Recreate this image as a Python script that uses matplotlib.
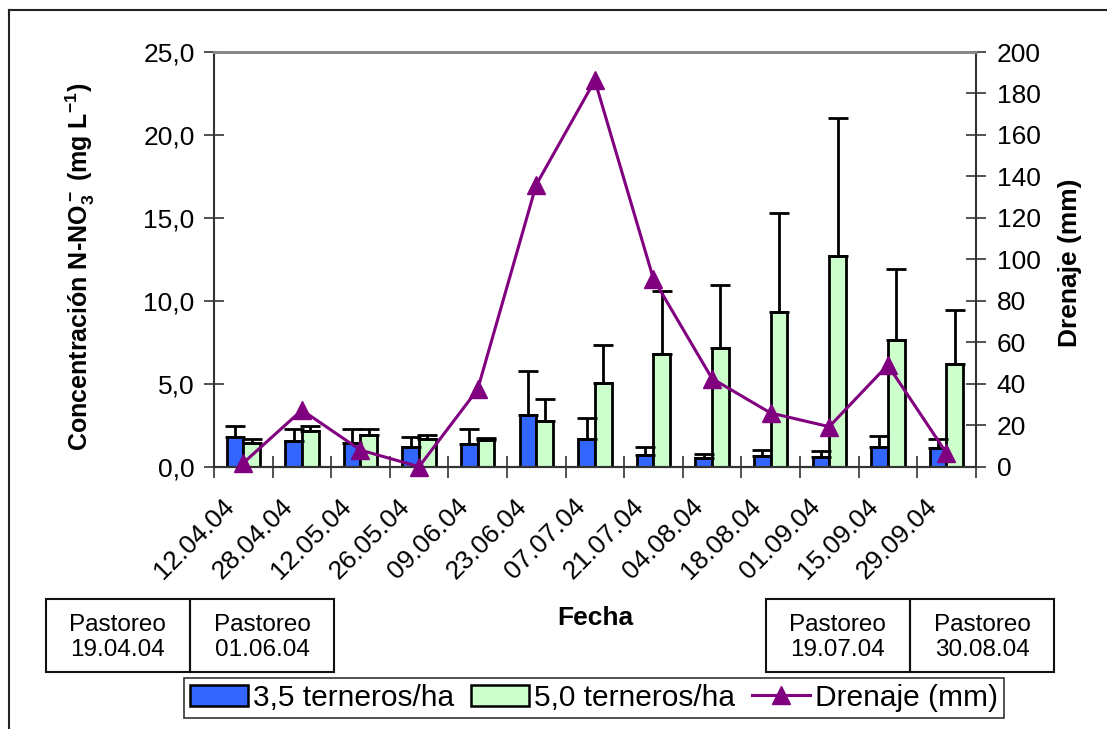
import matplotlib
matplotlib.use("Agg")
import matplotlib.pyplot as plt
import numpy as np
from matplotlib.patches import Rectangle
from matplotlib.lines import Line2D
from matplotlib.ticker import FuncFormatter, MultipleLocator
from matplotlib.transforms import ScaledTranslation

# ---- data ----
dates = ['12.04.04', '28.04.04', '12.05.04', '26.05.04', '09.06.04', '23.06.04', '07.07.04',
         '21.07.04', '04.08.04', '18.08.04', '01.09.04', '15.09.04', '29.09.04']
conc_35 = [1.77, 1.53, 1.41, 1.16, 1.36, 3.13, 1.66, 0.70, 0.54, 0.66, 0.60, 1.20, 1.10]
err_35 = [0.68, 0.74, 0.89, 0.66, 0.91, 2.61, 1.29, 0.49, 0.22, 0.32, 0.32, 0.65, 0.57]
conc_50 = [1.41, 2.14, 1.94, 1.66, 1.62, 2.77, 5.04, 6.80, 7.15, 9.32, 12.73, 7.61, 6.19]
err_50 = [0.29, 0.33, 0.36, 0.24, 0.10, 1.30, 2.31, 3.78, 3.81, 5.95, 8.32, 4.29, 3.25]
drenaje = [1.8, 27.3, 8.0, 0.0, 37.3, 136.0, 186.3, 90.6, 42.5, 25.9, 19.3, 49.0, 6.6]
pastoreo = ['Pastoreo\n19.04.04', 'Pastoreo\n01.06.04', 'Pastoreo\n19.07.04', 'Pastoreo\n30.08.04']
series_labels = ['3,5 terneros/ha', '5,0 terneros/ha', 'Drenaje (mm)']

BLUE = '#3366FF'
GREEN = '#CCFFCC'
PURPLE = '#800080'

plt.rcParams['font.family'] = ['Liberation Sans', 'DejaVu Sans']
plt.rcParams['mathtext.fontset'] = 'custom'
plt.rcParams['mathtext.rm'] = 'Liberation Sans:bold'
plt.rcParams['mathtext.bf'] = 'Liberation Sans:bold'
plt.rcParams['mathtext.it'] = 'Liberation Sans:bold'

W, H = 1107, 729
fig = plt.figure(figsize=(W / 100, H / 100), dpi=100)

def fx(px):
    return px / W

def fy(py):
    return 1 - py / H

ax_l, ax_r, ax_t, ax_b = 214, 975.7, 52, 466.7
ax = fig.add_axes([fx(ax_l), fy(ax_b), fx(ax_r - ax_l), (ax_b - ax_t) / H])
ax2 = ax.twinx()

n = len(dates)
x = np.arange(n)
bw = 0.285
ekw = dict(elinewidth=2.0, capthick=2.0, ecolor='black')
ax.bar(x - bw / 2, conc_35, bw, color=BLUE, edgecolor='black', linewidth=2.0, zorder=2,
       yerr=[np.zeros(n), err_35], capsize=7, error_kw=ekw)
ax.bar(x + bw / 2, conc_50, bw, color=GREEN, edgecolor='black', linewidth=2.0, zorder=2,
       yerr=[np.zeros(n), err_50], capsize=7, error_kw=ekw)

ax2.plot(x, drenaje, color=PURPLE, lw=2.2, marker='^', ms=13, mfc=PURPLE, mec=PURPLE,
         zorder=5, clip_on=False)

ax.set_xlim(-0.5, n - 0.5)
ax.set_ylim(0, 25)
ax2.set_ylim(0, 200)
ax.yaxis.set_major_locator(MultipleLocator(5))
ax2.yaxis.set_major_locator(MultipleLocator(20))
ax.yaxis.set_major_formatter(FuncFormatter(lambda v, p: f"{v:.1f}".replace('.', ',')))
ax2.yaxis.set_major_formatter(FuncFormatter(lambda v, p: f"{int(round(v))}"))

ax.set_zorder(ax2.get_zorder() - 1)
ax2.patch.set_visible(False)

# x ticks at category boundaries
ax.set_xticks(np.arange(-0.5, n, 1.0))
ax.set_xticklabels([])
ax.tick_params(axis='x', direction='inout', length=16, width=1.2, color='#333333')

# rotated category labels
lbl_tr = ax.get_xaxis_transform() + ScaledTranslation(-13 / 100, -36 / 100, fig.dpi_scale_trans)
for xi, d in zip(x, dates):
    ax.text(xi, 0, d, transform=lbl_tr, rotation=45, ha='right', va='center',
            rotation_mode='anchor', fontsize=19, clip_on=False)

ax.tick_params(axis='y', direction='inout', length=14, width=1.2, labelsize=19, pad=7,
               color='#333333')
ax2.tick_params(axis='y', direction='inout', length=14, width=1.2, labelsize=19, pad=8,
                color='#333333')

for a in (ax, ax2):
    a.spines['top'].set_color('#888888')
    a.spines['top'].set_linewidth(2)
    for s in ('left', 'right', 'bottom'):
        a.spines[s].set_color('#333333')
        a.spines[s].set_linewidth(1.5)
ax.spines['right'].set_visible(False)
ax2.spines['left'].set_visible(False)

# axis titles
fig.text(fx(80), fy(267), r'Concentración N-NO$_3^-$ (mg L$^{-1}$)', rotation=90,
         ha='center', va='center', fontsize=18, fontweight='bold')
fig.text(fx(1070), fy(263), 'Drenaje (mm)', rotation=90, ha='center', va='center',
         fontsize=19, fontweight='bold')
fig.text(fx(595), fy(618), 'Fecha', ha='center', va='center', fontsize=19, fontweight='bold')

# outer border (top and left)
fig.add_artist(Line2D([fx(9), 1], [fy(10), fy(10)], color='#222222', lw=1.5))
fig.add_artist(Line2D([fx(9), fx(9)], [fy(10), 0], color='#222222', lw=1.5))

# grazing boxes
box_top, box_bot = 599.3, 671.7
boxes = [(45.7, 190), (190, 334.3), (765.7, 910), (910, 1054.3)]
for (x0, x1), txt in zip(boxes, pastoreo):
    fig.add_artist(Rectangle((fx(x0), fy(box_bot)), fx(x1 - x0), (box_bot - box_top) / H,
                             transform=fig.transFigure, fill=False, edgecolor='#111111', lw=1.5))
    fig.text(fx((x0 + x1) / 2), fy((box_top + box_bot) / 2 + 2), txt, ha='center', va='center',
             fontsize=17.5, linespacing=1.15)

# legend
handles = [Rectangle((0, 0), 1, 1, facecolor=BLUE, edgecolor='black', lw=1.8),
           Rectangle((0, 0), 1, 1, facecolor=GREEN, edgecolor='black', lw=1.8),
           Line2D([], [], color=PURPLE, lw=2.2, marker='^', ms=13, mfc=PURPLE, mec=PURPLE)]
leg = fig.legend(handles, series_labels, loc='center',
                 bbox_to_anchor=(fx((185 + 1003) / 2), fy((676 + 719.3) / 2)),
                 ncol=3, frameon=True, fancybox=False, fontsize=21.5, handlelength=1.95,
                 handleheight=0.69, handletextpad=0.17, columnspacing=0.55, borderpad=0.2,
                 borderaxespad=0)
leg.get_frame().set_edgecolor('black')
leg.get_frame().set_linewidth(1.2)

fig.savefig('out.png', dpi=100)
